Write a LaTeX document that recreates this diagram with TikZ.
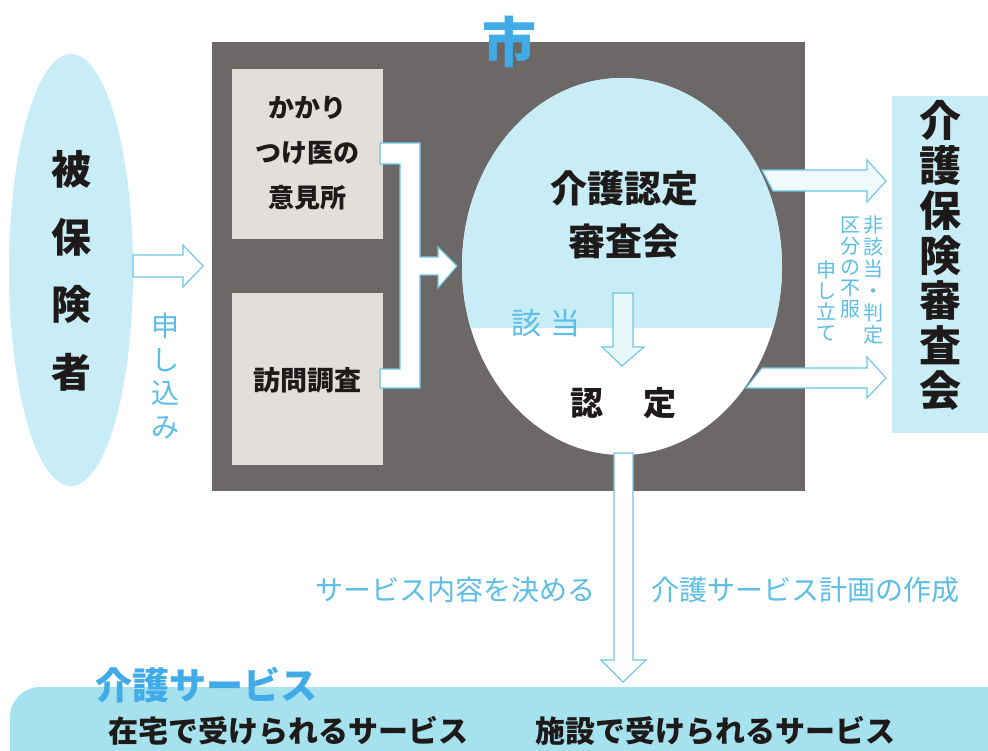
\documentclass[tikz,border=0pt]{standalone}
\usepackage{fontspec}
\usetikzlibrary{shapes.geometric}
\setmainfont{Noto Sans CJK JP}
\newcommand\heavy{\bfseries}
\definecolor{paleblue}{HTML}{C8EDF6}
\definecolor{midblue}{HTML}{A6E1EE}
\definecolor{inkblue}{HTML}{5CBDE6}
\definecolor{titleblue}{HTML}{40ABE6}
\definecolor{edgeblue}{HTML}{6CC6E4}
\definecolor{darkbg}{HTML}{6C6867}
\definecolor{boxgray}{HTML}{E2DEDA}
\definecolor{ink}{HTML}{1E1A1A}
\tikzset{
  x=1pt,y=-1pt,
  blockarrow/.style={draw=edgeblue,line width=1.1pt,fill=#1,line join=miter},
  blockarrow/.default=white,
  lab/.style={inner sep=0pt,text=inkblue,font=\fontsize{#1}{#1}\selectfont},
  bigtxt/.style={inner sep=0pt,text=ink,font=\heavy\fontsize{#1}{#1}\selectfont},
  vlab/.style 2 args={inner sep=0pt,align=center,text=inkblue,font=\fontsize{#1}{#2}\selectfont},
  vbig/.style 2 args={inner sep=0pt,align=center,text=ink,font=\heavy\fontsize{#1}{#2}\selectfont},
}
\begin{document}
\begin{tikzpicture}
\useasboundingbox (0,0) rectangle (988,751);
\fill[white] (0,0) rectangle (988,751);
% backgrounds
\fill[darkbg] (212,42) rectangle (805,491);
\node[ellipse,fill=paleblue,inner sep=0pt,minimum width=124pt,minimum height=432pt] (sub) at (71,270) {};
\fill[paleblue] (892,96) rectangle (988,433);
\fill[boxgray] (232,69) rectangle (383,239);
\fill[boxgray] (232,293) rectangle (383,465);
% big circle
\fill[white] (622,266.5) ellipse [x radius=160,y radius=188.5];
\begin{scope}
\clip (622,266.5) ellipse [x radius=160,y radius=188.5];
\fill[paleblue] (440,60) rectangle (800,328);
\end{scope}
% bottom band
\fill[midblue,rounded corners=30pt] (10,687) rectangle (1040,790);
% arrows
\draw[blockarrow] (133,255) -- (183,255) -- (183,245) -- (203,266) -- (183,287) -- (183,277) -- (133,277) -- cycle;
\draw[blockarrow=white] (380,143) -- (420,143) -- (420,257) -- (438,257) -- (438,247) -- (457,266) -- (438,288) -- (438,275) -- (420,275) -- (420,388) -- (380,388) -- (380,369) -- (400,369) -- (400,164) -- (380,164) -- cycle;
\draw[blockarrow=paleblue!40] (613,293) -- (633,293) -- (633,347) -- (644,347) -- (622,366) -- (602,347) -- (613,347) -- cycle;
\draw[blockarrow=paleblue!30] (762,170) -- (867,170) -- (867,160) -- (886,181) -- (867,202) -- (867,191) -- (773,191) -- cycle;
\draw[blockarrow=white] (762,368) -- (867,368) -- (867,357) -- (886,378) -- (867,398) -- (867,388) -- (746,388) -- cycle;
\draw[blockarrow=white] (614,453) -- (633,453) -- (633,660) -- (646,660) -- (623,682) -- (601,660) -- (614,660) -- cycle;
% texts
\node[vbig={40}{67.5}] (t1) at (71,271) {被\\保\\険\\者};
\node[vlab={28}{33.5}] (t2) at (165,376) {申\\し\\込\\み};
\node[vbig={26}{45}] (t3) at (307,153) {かかり\\つけ医の\\意見所};
\node[bigtxt=27] (t4) at (307,380) {訪問調査};
\node[vbig={37}{53}] (t5) at (624,215) {介護認定\\審査会};
\node[lab=30] (t6) at (546,323) {該\hspace{10pt}当};
\node[bigtxt=33] (t7) at (623,403) {認\hspace{40pt}定};
\node[vbig={42}{45}] (t8) at (940,255) {介\\護\\保\\険\\審\\査\\会};
\node[vlab={20}{22},anchor=north] (t9) at (873,216) {非\\該\\当\\・\\判\\定};
\node[vlab={20}{21},anchor=north] (t10) at (850,217) {区\\分\\の\\不\\服};
\node[vlab={20}{21},anchor=north] (t11) at (826,261) {申\\し\\立\\て};
\node[lab=28] (t12) at (455,590) {サービス内容を決める};
\node[lab=28] (t13) at (805,590) {介護サービス計画の作成};
\node[inner sep=0pt,text=titleblue,font=\heavy\fontsize{37}{37}\selectfont] (t14) at (206,685) {介護サービス};
\node[bigtxt=30] (t15) at (288,731) {在宅で受けられるサービス};
\node[bigtxt=30] (t16) at (715,731) {施設で受けられるサービス};
\node[inner sep=0pt,text=titleblue,font=\heavy\fontsize{54}{54}\selectfont] (t17) at (509,42) {市};
\end{tikzpicture}
\end{document}
